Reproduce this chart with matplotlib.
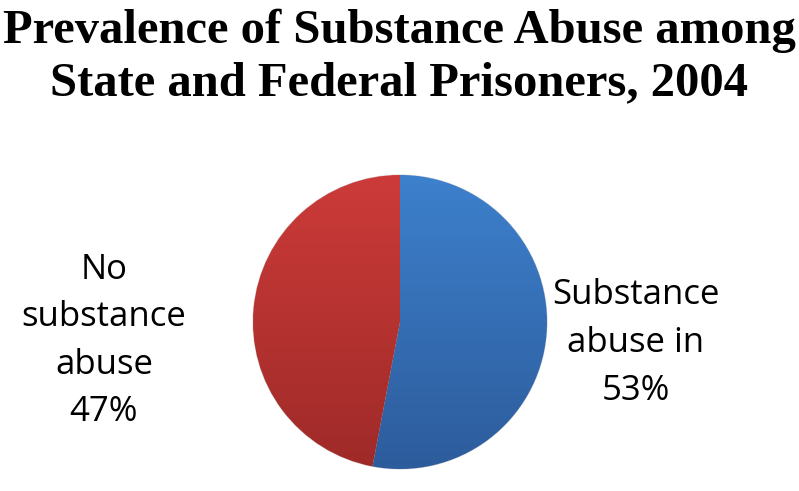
import numpy as np
import matplotlib
matplotlib.use('Agg')
from matplotlib import pyplot as plt
from matplotlib.colors import LinearSegmentedColormap

title = 'Prevalence of Substance Abuse among\nState and Federal Prisoners, 2004'
labels = ['Substance\nabuse in\n53%', 'No\nsubstance\nabuse\n47%']
shares = [53, 47]
top_colors = ['#3d80cc', '#cc3b39']
bottom_colors = ['#2d5c9c', '#9e2a28']

fig = plt.figure(figsize=(7.99, 4.91), dpi=100)
fig.text(0.5, 1 - 57 / 491, title, ha='center', va='center', family='Liberation Serif',
         fontweight='bold', fontsize=35, linespacing=1.22)

# pie box in figure pixels: center (400, 322), radius 147
r_px = 147
ax = fig.add_axes([(400 - r_px) / 799, 1 - (322 + r_px) / 491, 2 * r_px / 799, 2 * r_px / 491])
wedges, _ = ax.pie(shares, colors=top_colors, startangle=90, counterclock=False, radius=1,
                   wedgeprops=dict(linewidth=0.8, edgecolor='#d8d8d8'))
ax.set_xlim(-1, 1)
ax.set_ylim(-1, 1)
ax.set_aspect('equal')
ax.axis('off')

# vertical shading inside each slice
grad = np.linspace(0, 1, 256).reshape(-1, 1)
for w, c0, c1 in zip(wedges, top_colors, bottom_colors):
    cmap = LinearSegmentedColormap.from_list('g', [c1, c0])
    im = ax.imshow(grad, extent=[-1, 1, -1, 1], origin='lower', cmap=cmap, aspect='auto', zorder=1)
    im.set_clip_path(w)
    w.set_zorder(0)

lab_font = dict(family='Open Sans', fontsize=25, ha='center', va='center', linespacing=1.52)
fig.text(636 / 799, 1 - 343 / 491, labels[0], **lab_font)
fig.text(104 / 799, 1 - 341 / 491, labels[1], **lab_font)

plt.savefig('out.png', dpi=100)
